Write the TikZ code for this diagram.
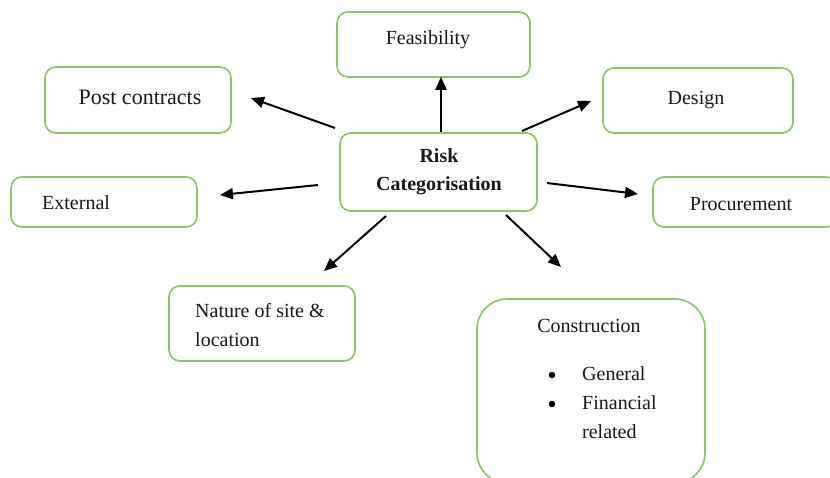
\documentclass[tikz,border=0pt]{standalone}
\usepackage{fontspec}
\setmainfont{Liberation Serif}
\usetikzlibrary{arrows.meta}
\definecolor{boxgreen}{RGB}{140,196,104}
\tikzset{
  box/.style={draw=boxgreen, line width=1.6pt, rounded corners=11pt, fill=white, inner sep=0pt},
  lbl/.style={inner sep=0pt, font=\fontsize{20}{29}\selectfont, text=black!90},
  bul/.style={circle, fill=black, inner sep=0pt, minimum size=6.5pt},
  arr/.style={line width=2pt, -{Triangle[length=13pt,width=11pt]}}
}
\begin{document}
\begin{tikzpicture}[x=1pt,y=-1pt]
\useasboundingbox (0,0) rectangle (830,477);
\fill[white] (0,0) rectangle (830,477);
% boxes
\node[box, minimum width=193pt, minimum height=65pt] (feas) at (433.5,44.5) {};
\node[box, minimum width=186pt, minimum height=66pt] (post) at (138,100) {};
\node[box, minimum width=190pt, minimum height=65pt] (design) at (698,100.5) {};
\node[box, minimum width=197pt, minimum height=78pt] (risk) at (438.5,172) {};
\node[box, minimum width=186pt, minimum height=50pt] (ext) at (104,202) {};
\node[box, minimum width=184pt, minimum height=50pt] (proc) at (745,202) {};
\node[box, minimum width=186pt, minimum height=75pt] (nature) at (262,323.5) {};
\node[box, rounded corners=30pt, minimum width=228pt, minimum height=184pt] (cons) at (591,391) {};
% texts
\node[lbl] (tfeas) at (428,40) {Feasibility};
\node[lbl, font=\fontsize{22}{29}\selectfont] (tpost) at (140,97) {Post contracts};
\node[lbl] (tdesign) at (696,100) {Design};
\node[lbl, align=center, font=\bfseries\fontsize{20}{28}\selectfont] (trisk) at (439,172) {Risk\\Categorisation};
\node[lbl, anchor=west] (text) at (42,203) {External};
\node[lbl] (tproc) at (741,204) {Procurement};
\node[lbl, anchor=west, align=left] (tnat) at (195,325) {Nature of site \&\\location};
\node[lbl] (tcons) at (589,326) {Construction};
\node[bul] (b1) at (552,375) {};
\node[bul] (b2) at (552,404) {};
\node[lbl, anchor=west] (tgen) at (582,374) {General};
\node[lbl, anchor=west] (tfin) at (582,403) {Financial};
\node[lbl, anchor=west] (trel) at (582,432) {related};
% arrow ends
\coordinate (p1) at (335,128); \coordinate (p2) at (251,98);
\coordinate (d1) at (522,131); \coordinate (d2) at (591,101);
\coordinate (e1) at (318,185); \coordinate (e2) at (220,195);
\coordinate (r1) at (547,183); \coordinate (r2) at (638,194);
\coordinate (n1) at (386,216); \coordinate (n2) at (324,271);
\coordinate (c1) at (506,215); \coordinate (c2) at (561,267);
% arrows
\draw[arr] (risk.north -| 441,0) -- ([yshift=1pt]feas.south -| 441,0);
\draw[arr] (p1) -- (p2);
\draw[arr] (d1) -- (d2);
\draw[arr] (e1) -- (e2);
\draw[arr] (r1) -- (r2);
\draw[arr] (n1) -- (n2);
\draw[arr] (c1) -- (c2);
\end{tikzpicture}
\end{document}
